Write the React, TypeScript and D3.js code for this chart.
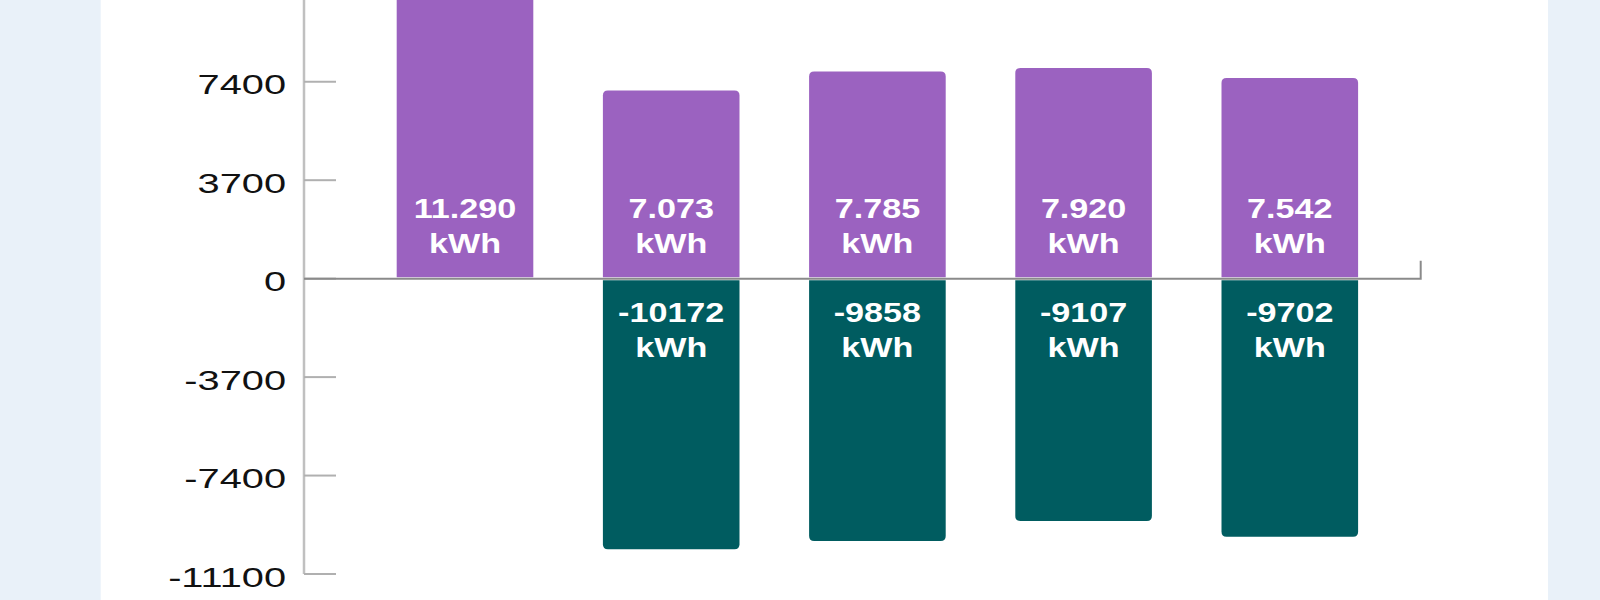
import React from "react";
import * as d3 from "d3";

const categories = ["P1", "P2", "P3", "P4", "P5"];
const consumption = [11290, 7073, 7785, 7920, 7542];
const feedIn: (number | null)[] = [null, -10172, -9858, -9107, -9702];
const yTicks = [-11100, -7400, -3700, 0, 3700, 7400];
const unit = "kWh";

const W = 1600;
const H = 600;
const PURPLE = "#9b62c0";
const TEAL = "#005c60";
const BG = "#e9f1f9";

const locale = d3.formatLocale({
  decimal: ",",
  thousands: ".",
  grouping: [3],
  currency: ["", "€"],
  minus: "-",
});
const fmtPos = locale.format(",d");
const fmtNeg = locale.format("d");

function barPath(x: number, y0: number, y1: number, w: number, r: number) {
  const dir = y1 < y0 ? -1 : 1;
  const p = d3.path();
  p.moveTo(x, y0);
  p.lineTo(x, y1 - dir * r);
  p.quadraticCurveTo(x, y1, x + r, y1);
  p.lineTo(x + w - r, y1);
  p.quadraticCurveTo(x + w, y1, x + w, y1 - dir * r);
  p.lineTo(x + w, y0);
  p.closePath();
  return p.toString();
}

export default function App() {
  const y = d3.scaleLinear().domain([-11100, 11100]).range([574, -16.7]);
  const x = d3
    .scaleBand<string>()
    .domain(categories)
    .range([361.9, 1392.9])
    .paddingInner(0.3375)
    .paddingOuter(0.16875);
  const axisX = 304;
  const axisXEnd = 1420.7;
  const y0 = y(0);
  const bw = x.bandwidth();

  return (
    <svg
      width={W}
      height={H}
      style={{ position: "absolute", left: 0, top: 0, display: "block" }}
      fontFamily="'Liberation Sans', Arial, sans-serif"
    >
      <rect x={0} y={0} width={W} height={H} fill={BG} />
      <rect x={100.7} y={0} width={1548 - 100.7} height={H} fill="#ffffff" />

      {categories.map((c, i) => (
        <path
          key={"p" + c}
          d={barPath(x(c)!, y0 - 1.5, y(consumption[i]), bw, 5)}
          fill={PURPLE}
        />
      ))}
      {categories.map((c, i) =>
        feedIn[i] == null ? null : (
          <path
            key={"n" + c}
            d={barPath(x(c)!, y0 + 1.5, y(feedIn[i] as number), bw, 5)}
            fill={TEAL}
          />
        )
      )}

      <line x1={axisX} x2={axisX} y1={y(11100)} y2={y(-11100)} stroke="#c0c0c0" strokeWidth={2.5} />
      {yTicks.map((t) => (
        <g key={"t" + t}>
          <line x1={axisX} x2={axisX + 32} y1={y(t)} y2={y(t)} stroke="#b0b0b0" strokeWidth={2} />
          <text
            transform={`translate(${286},${y(t) + 12.5}) scale(1.42,1)`}
            textAnchor="end"
            fontSize={28}
            fill="#111"
          >
            {String(t)}
          </text>
        </g>
      ))}

      <path
        d={`M${axisX},${y0}H${axisXEnd}V${y0 - 18}`}
        fill="none"
        stroke="#8a8a8a"
        strokeWidth={2}
      />

      {categories.map((c, i) => {
        const cx = x(c)! + bw / 2;
        return (
          <g key={"l" + c} fill="#ffffff" fontWeight="bold" fontSize={28}>
            <text transform={`translate(${cx},${y0 - 61}) scale(1.22,1)`} textAnchor="middle">
              {fmtPos(consumption[i])}
            </text>
            <text transform={`translate(${cx},${y0 - 25.3}) scale(1.22,1)`} textAnchor="middle">
              {unit}
            </text>
            {feedIn[i] != null && (
              <>
                <text transform={`translate(${cx},${y0 + 43}) scale(1.22,1)`} textAnchor="middle">
                  {fmtNeg(feedIn[i] as number)}
                </text>
                <text transform={`translate(${cx},${y0 + 78}) scale(1.22,1)`} textAnchor="middle">
                  {unit}
                </text>
              </>
            )}
          </g>
        );
      })}
    </svg>
  );
}
